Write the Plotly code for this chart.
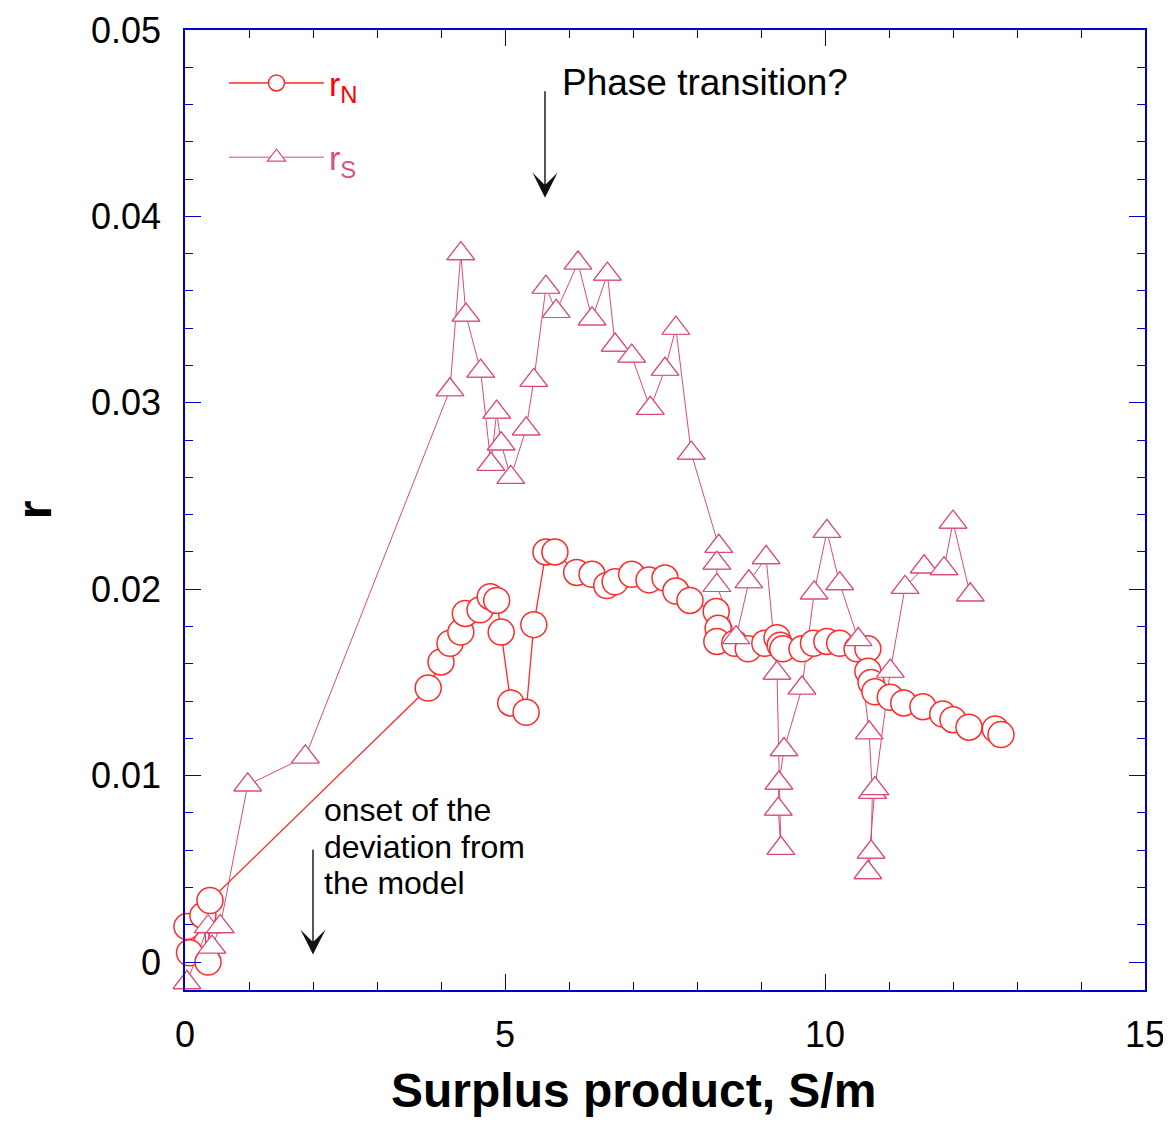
import plotly.graph_objects as go

# ---------------- data ----------------
rn_x = [0.03, 0.07, 0.28, 0.36, 0.39, 3.80, 4.00, 4.14, 4.31, 4.38, 4.61, 4.77, 4.87, 4.94,
        5.09, 5.33, 5.45, 5.64, 5.78, 6.12, 6.36, 6.59, 6.72, 6.98, 7.25, 7.50, 7.67, 7.89,
        8.30, 8.33, 8.31, 8.59, 8.80, 9.06, 9.25, 9.30, 9.34, 9.64, 9.82, 10.03, 10.23,
        10.50, 10.67, 10.67, 10.72, 10.78, 11.02, 11.23, 11.53, 11.84, 12.00, 12.25, 12.66, 12.75]
rn_y = [0.0019, 0.0005, 0.0025, 0.0000, 0.0033, 0.0147, 0.0161, 0.0171, 0.0177, 0.0187, 0.0189,
        0.0196, 0.0194, 0.0177, 0.0139, 0.0134, 0.0181, 0.0220, 0.0220, 0.0209, 0.0208, 0.0202,
        0.0204, 0.0208, 0.0205, 0.0206, 0.0199, 0.0194, 0.0188, 0.0179, 0.0172, 0.0171, 0.0168,
        0.0171, 0.0174, 0.0170, 0.0168, 0.0168, 0.0171, 0.0172, 0.0171, 0.0168, 0.0168, 0.0156,
        0.0150, 0.0145, 0.0142, 0.0139, 0.0137, 0.0133, 0.0130, 0.0126, 0.0125, 0.0122]

rs_x = [0.03, 0.36, 0.42, 0.55, 0.98, 1.88, 4.14, 4.31, 4.39, 4.62, 4.78, 4.87, 4.94, 5.09,
        5.33, 5.45, 5.64, 5.80, 6.14, 6.36, 6.60, 6.72, 6.98, 7.27, 7.50, 7.67, 7.91, 8.34,
        8.31, 8.31, 8.61, 8.81, 9.08, 9.25, 9.31, 9.27, 9.28, 9.36, 9.64, 9.83, 10.03, 10.23,
        10.52, 10.69, 10.74, 10.72, 10.67, 10.78, 11.02, 11.25, 11.55, 11.86, 12.00, 12.27]
rs_y = [-0.0011, 0.0019, 0.0008, 0.0019, 0.0095, 0.0110, 0.0307, 0.0380, 0.0347, 0.0317,
        0.0267, 0.0295, 0.0278, 0.0260, 0.0286, 0.0312, 0.0362, 0.0349, 0.0375, 0.0345,
        0.0369, 0.0331, 0.0325, 0.0297, 0.0318, 0.0340, 0.0273, 0.0223, 0.0214, 0.0202,
        0.0174, 0.0204, 0.0217, 0.0155, 0.0061, 0.0082, 0.0096, 0.0114, 0.0147, 0.0198,
        0.0231, 0.0203, 0.0173, 0.0123, 0.0091, 0.0059, 0.0048, 0.0093, 0.0156, 0.0201,
        0.0212, 0.0211, 0.0236, 0.0197]

x_tick_vals = [0, 5, 10, 15]
x_tick_text = ["0", "5", "10", "15"]
y_tick_vals = [0, 0.01, 0.02, 0.03, 0.04, 0.05]
y_tick_text = ["0", "0.01", "0.02", "0.03", "0.04", "0.05"]

onset_lines = ["onset of the", "deviation from", "the model"]
onset_line_y = [0.00815, 0.00617, 0.00424]

# ---------------- style ----------------
RED = "#ff2a2a"
PINK = "#dc4a7c"
AXIS = "#0000cc"
FONT = "Liberation Sans, Arial, Helvetica, sans-serif"

tri_marker = dict(symbol="triangle-up", size=24, color="white", line=dict(color=PINK, width=1.2))
circ_marker = dict(symbol="circle", size=26, color="white", line=dict(color=RED, width=1.5))

fig = go.Figure()
fig.add_trace(go.Scatter(
    x=rs_x, y=rs_y, mode="lines+markers",
    name="<span style='color:#d9507f'>r<sub>S</sub></span>",
    line=dict(color=PINK, width=1), marker=tri_marker, cliponaxis=False,
    legendgroup="s", legendrank=2, hoverinfo="skip"))
fig.add_trace(go.Scatter(
    x=rn_x, y=rn_y, mode="lines+markers",
    name="<span style='color:#ff0000'>r<sub>N</sub></span>",
    line=dict(color=RED, width=1.3), marker=circ_marker, cliponaxis=False,
    legendgroup="n", legendrank=1, hoverinfo="skip"))
fig.add_trace(go.Scatter(
    x=rs_x, y=rs_y, mode="markers", marker=tri_marker, cliponaxis=False,
    showlegend=False, hoverinfo="skip"))

# annotations: arrows + text
fig.add_annotation(x=5.625, y=0.0410, ax=5.625, ay=0.0468, xref="x", yref="y",
                   axref="x", ayref="y", text="", showarrow=True, arrowhead=3,
                   arrowsize=3.0, arrowwidth=1.4, arrowcolor="#111111")
fig.add_annotation(x=5.86, y=0.0472, xref="x", yref="y", text="Phase transition?",
                   showarrow=False, xanchor="left", yanchor="middle",
                   font=dict(size=37, color="black", family=FONT))
fig.add_annotation(x=2.0, y=0.0004, ax=2.0, ay=0.0061, xref="x", yref="y",
                   axref="x", ayref="y", text="", showarrow=True, arrowhead=3,
                   arrowsize=3.0, arrowwidth=1.4, arrowcolor="#111111")
for txt, ty in zip(onset_lines, onset_line_y):
    fig.add_annotation(x=2.14, y=ty, xref="x", yref="y", text=txt,
                       showarrow=False, xanchor="left", yanchor="middle", align="left",
                       font=dict(size=32, color="black", family=FONT))

# x-axis title (placed slightly left of centre as in the original)
fig.add_annotation(x=0.4667, y=-0.105, xref="paper", yref="paper",
                   text="<b>Surplus product, S/m</b>", showarrow=False,
                   xanchor="center", yanchor="middle",
                   font=dict(size=48, color="black", family=FONT))

axis_common = dict(
    ticks="inside", tickcolor=AXIS, tickwidth=1.4, ticklen=16,
    showline=True, linecolor=AXIS, linewidth=1.5, mirror="ticks",
    showgrid=False, zeroline=False, automargin=False,
)

# the page body adds an 8px offset, so the figure is sized/margined to compensate
fig.update_layout(
    width=1163, height=1114,
    margin=dict(l=177, r=26, t=22, b=132, autoexpand=False),
    paper_bgcolor="white", plot_bgcolor="white",
    font=dict(family=FONT, color="black"),
    showlegend=True,
    legend=dict(x=0.0406, y=0.9746, xanchor="left", yanchor="top",
                bgcolor="rgba(0,0,0,0)", font=dict(size=34, family=FONT),
                traceorder="grouped", tracegroupgap=27, itemwidth=95),
    xaxis=dict(
        range=[0, 15], tickmode="array", tickvals=x_tick_vals, ticktext=x_tick_text,
        tickfont=dict(size=36), ticklabelstandoff=12,
        minor=dict(dtick=1, tick0=0, ticks="inside", ticklen=8, tickcolor=AXIS,
                   tickwidth=1.2, showgrid=False),
        **axis_common),
    yaxis=dict(
        range=[-0.0015, 0.05], tickmode="array", tickvals=y_tick_vals, ticktext=y_tick_text,
        tickfont=dict(size=36), ticklabelstandoff=15,
        minor=dict(dtick=0.002, tick0=0, ticks="inside", ticklen=8, tickcolor=AXIS,
                   tickwidth=1.2, showgrid=False),
        title=dict(text="<b>r</b>", font=dict(size=48), standoff=46),
        **axis_common),
)

fig.write_html("out.html")
